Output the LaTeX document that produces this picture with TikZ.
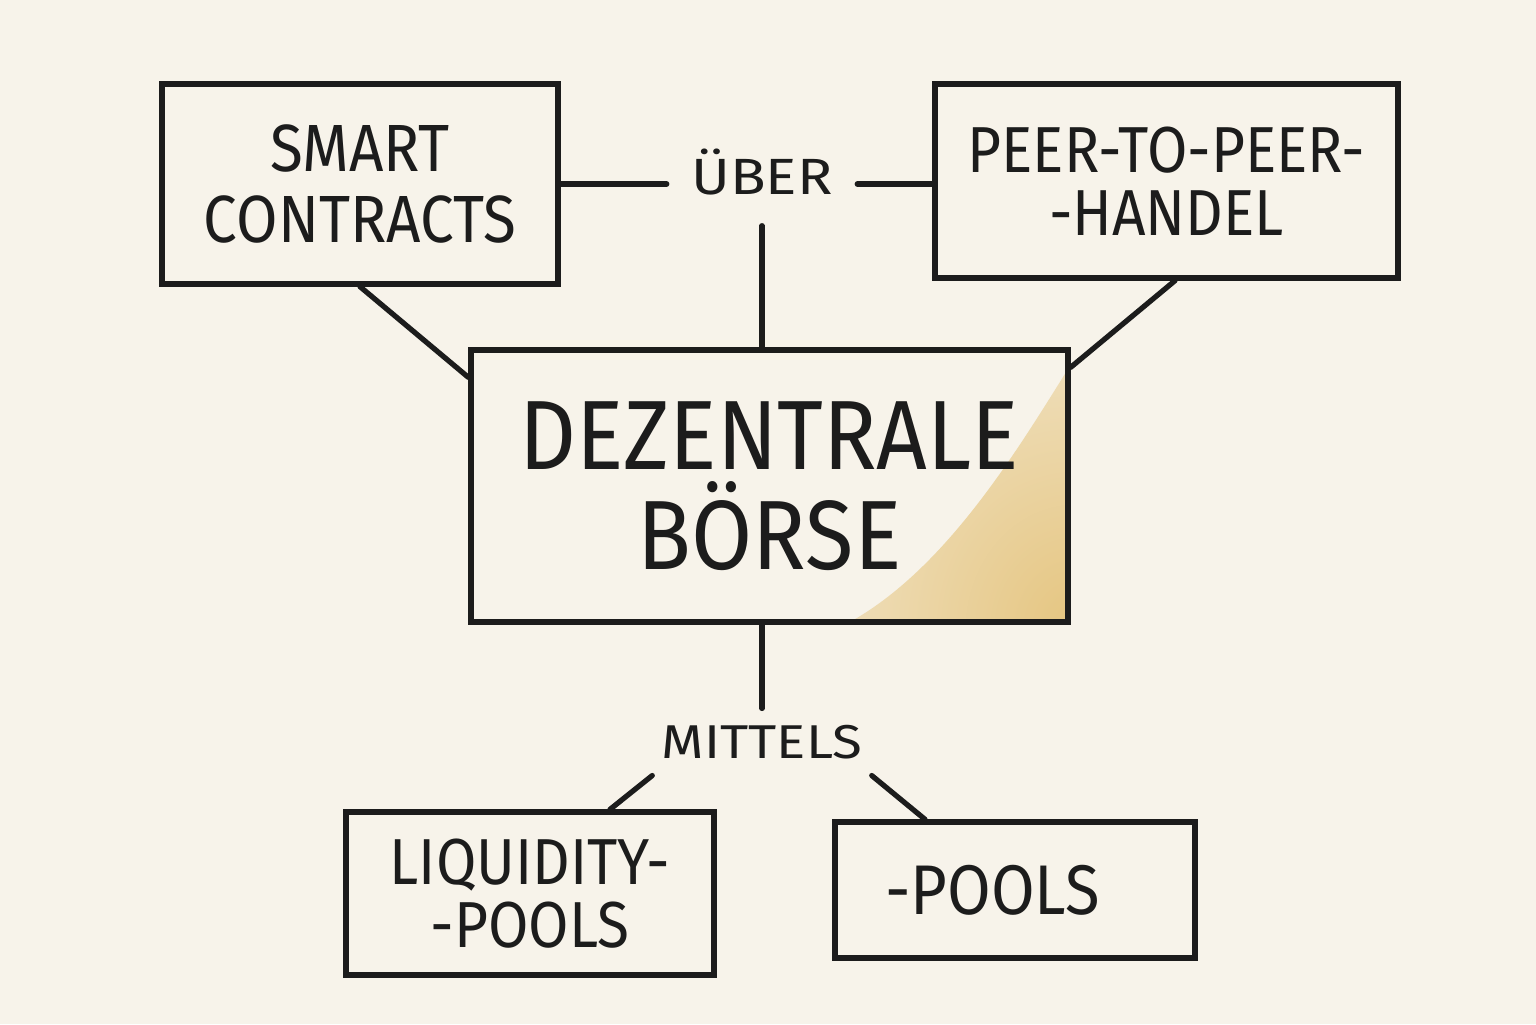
\documentclass[tikz,border=0pt]{standalone}
\usepackage{fontspec}
\setmainfont{Fira Sans}[FakeStretch=0.9]
\newfontfamily\linkfont{Fira Sans}[FakeStretch=1.15]
\definecolor{paper}{RGB}{247,243,234}
\definecolor{ink}{RGB}{28,28,28}
\definecolor{sand}{RGB}{229,197,128}

\begin{document}
\begin{tikzpicture}[line width=1.5pt,line cap=round,
  box/.style={draw=ink,align=center,inner sep=0,text=ink,line cap=butt},
  word/.style={inner sep=0,text=ink}]
\fill[paper](0,0)rectangle(15.36,10.24);
\useasboundingbox(0,0)rectangle(15.36,10.24);
% crayon shading in the corner of the main box
\begin{scope}
\clip(10.68,4.02)--(8.50,4.02)..controls(9.45,4.55)and(10.15,5.70)..(10.68,6.55)--cycle;
\shade[inner color=sand,outer color=paper](10.75,3.95)ellipse(4.4 and 5.0);
\end{scope}
% boxes
\node[box,minimum width=3.96cm,minimum height=2.00cm,font=\fontsize{19}{20}\selectfont](smart)at(3.60,8.40){SMART\\CONTRACTS};
\node[box,minimum width=4.63cm,minimum height=1.94cm,font=\fontsize{18.5}{18}\selectfont](peer)at(11.665,8.43){PEER-TO-PEER-\\-HANDEL};
\node[box,minimum width=5.97cm,minimum height=2.72cm,font=\fontsize{28}{28.5}\selectfont](dex)at(7.695,5.38){DEZENTRALE\\BÖRSE};
\node[box,minimum width=3.68cm,minimum height=1.63cm,font=\fontsize{18.5}{18}\selectfont](liq)at(5.30,1.305){LIQUIDITY-\\-POOLS};
\node[box,minimum width=3.60cm,minimum height=1.36cm,font=\fontsize{20}{20}\selectfont](pool)at(10.15,1.34){-POOLS\hspace*{4.5mm}};
% labels on the links
\node[word,inner xsep=2.2mm,inner ysep=2.8mm,font=\linkfont\fontsize{14.5}{16}\selectfont](uber)at(7.62,8.52){ÜBER};
\node[word,inner xsep=0.7mm,inner ysep=1.4mm,font=\linkfont\fontsize{13.5}{15}\selectfont](mittels)at(7.62,2.82){MITTELS};
% links
\begin{scope}[draw=ink]
\draw(smart.east)--(smart.east-|uber.west);
\draw(uber.east|-smart.east)--(peer.west|-smart.east);
\draw(dex.north-|uber.south)--(uber.south);
\draw(smart.south)--([yshift=-3mm]dex.north west);
\draw([xshift=0.85mm]peer.south)--([yshift=-2mm]dex.north east);
\draw(dex.south-|mittels.north)--(mittels.north);
\draw(mittels.south west)--([xshift=8mm]liq.north);
\draw(mittels.south east)--([xshift=-9mm]pool.north);
\end{scope}
\end{tikzpicture}
\end{document}
